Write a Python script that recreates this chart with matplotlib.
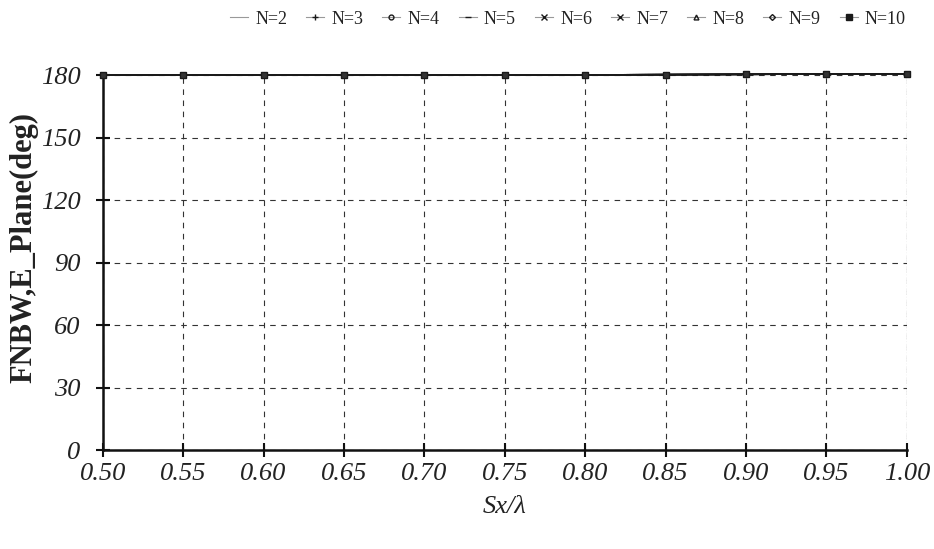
import matplotlib
matplotlib.use("Agg")
import matplotlib.pyplot as plt
from matplotlib.lines import Line2D

# Element spacing ratio Sx/lambda
sx = [0.50, 0.55, 0.60, 0.65, 0.70, 0.75, 0.80, 0.85, 0.90, 0.95, 1.00]

# First-null beamwidth in the E-plane (deg) for each array size N
fnbw_n2 = [180.0, 180.0, 180.0, 180.0, 180.1, 180.1, 180.2, 180.3, 180.4, 180.5, 180.5]
fnbw_n3 = [180.0, 180.0, 180.0, 180.0, 180.1, 180.1, 180.2, 180.3, 180.4, 180.5, 180.5]
fnbw_n4 = [180.0, 180.0, 180.0, 180.0, 180.1, 180.1, 180.2, 180.3, 180.4, 180.5, 180.5]
fnbw_n5 = [180.0, 180.0, 180.0, 180.0, 180.1, 180.1, 180.2, 180.3, 180.4, 180.5, 180.5]
fnbw_n6 = [180.0, 180.0, 180.0, 180.0, 180.1, 180.1, 180.2, 180.3, 180.4, 180.5, 180.5]
fnbw_n7 = [180.0, 180.0, 180.0, 180.0, 180.1, 180.1, 180.2, 180.3, 180.4, 180.5, 180.5]
fnbw_n8 = [180.0, 180.0, 180.0, 180.0, 180.1, 180.1, 180.2, 180.3, 180.4, 180.5, 180.5]
fnbw_n9 = [180.0, 180.0, 180.0, 180.0, 180.1, 180.1, 180.2, 180.3, 180.4, 180.5, 180.5]
fnbw_n10 = [180.0, 180.0, 180.0, 180.0, 180.1, 180.1, 180.2, 180.3, 180.4, 180.5, 180.5]

series_labels = ["N=2", "N=3", "N=4", "N=5", "N=6", "N=7", "N=8", "N=9", "N=10"]
series_values = [fnbw_n2, fnbw_n3, fnbw_n4, fnbw_n5, fnbw_n6,
                 fnbw_n7, fnbw_n8, fnbw_n9, fnbw_n10]
markers = ["", "+", "o", "_", "x", "x", "^", "D", "s"]
marker_sizes = [0, 5, 3.5, 5, 4, 4, 3.5, 3, 4]

y_ticks = [0, 30, 60, 90, 120, 150, 180]
x_ticks = sx

serif = ["Liberation Serif", "DejaVu Serif"]

fig = plt.figure(figsize=(9.34, 5.49), dpi=100)
ax = fig.add_axes([0.110, 0.180, 0.861, 0.683])

line_col = "#1a1a1a"
for lab, vals, mk, ms in zip(series_labels, series_values, markers, marker_sizes):
    mfc = "none" if mk in ("o", "^", "D") else line_col
    if lab == "N=10":
        mfc = "#333333"
    ax.plot(sx, vals, color=line_col, lw=1.0, marker=mk if mk else None,
            ms=ms, mfc=mfc, mec=line_col, mew=1.0, label=lab, zorder=3,
            clip_on=False)

ax.set_xlim(0.50, 1.00)
ax.set_ylim(0, 180)
ax.set_xticks(x_ticks)
ax.set_xticklabels([f"{v:.2f}" for v in x_ticks])
ax.set_yticks(y_ticks)
ax.set_yticklabels([str(v) for v in y_ticks])

for s in ("top", "right"):
    ax.spines[s].set_visible(False)
for s in ("left", "bottom"):
    ax.spines[s].set_linewidth(1.8)
    ax.spines[s].set_color("#111111")

ax.tick_params(axis="both", direction="inout", length=10, width=1.5,
               colors="#111111")
ax.tick_params(axis="y", pad=11)
ax.tick_params(axis="x", pad=4)
for t in ax.get_xticklabels() + ax.get_yticklabels():
    t.set_fontfamily(serif)
    t.set_fontstyle("italic")
    t.set_fontsize(19)
    t.set_color("#222222")

ax.grid(True, color="#333333", linestyle=(0, (5, 5)), linewidth=0.8)
ax.axvline(1.00, color="#555555", lw=0.8, linestyle=(0, (1, 1.5)), zorder=1)

ax.set_xlabel("Sx/\u03bb", fontfamily=serif, fontstyle="italic",
              fontsize=19, color="#222222", labelpad=8)
ax.set_ylabel("FNBW,E_Plane(deg)", fontfamily=serif, fontweight="bold",
              fontsize=22, color="#222222")
ax.yaxis.set_label_coords(-0.080, 0.54)

handles = []
for lab, mk, ms in zip(series_labels, markers, marker_sizes):
    mfc = "none" if mk in ("o", "^", "D") else line_col
    handles.append(Line2D([0], [0], color="#999999", lw=0.8,
                          marker=mk if mk else None, ms=ms, mfc=mfc,
                          mec=line_col, mew=1.0))
leg = fig.legend(handles, series_labels, loc="center", ncol=9,
                 bbox_to_anchor=(0.608, 0.965), frameon=False,
                 prop={"family": serif, "size": 13}, handlelength=1.0,
                 handletextpad=0.4, columnspacing=1.05)
for t in leg.get_texts():
    t.set_color("#222222")

fig.savefig("out.png", dpi=100)
